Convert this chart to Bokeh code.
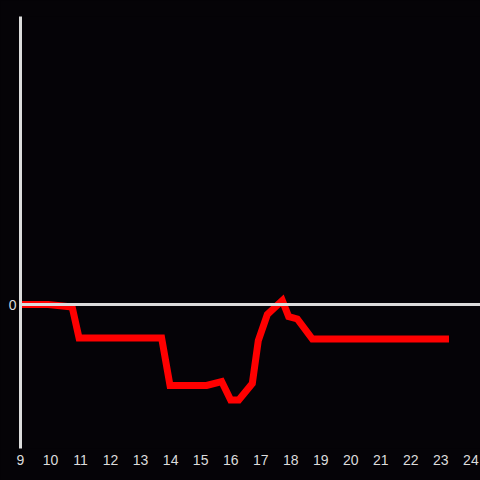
from bokeh.plotting import figure
from bokeh.models import Range1d, FixedTicker, Span
from bokeh.embed import file_html
from bokeh.resources import INLINE

# data
hours = [9.0, 9.92, 10.72, 10.95, 13.7, 13.98, 15.2, 15.7, 16.0, 16.27,
         16.72, 16.92, 17.22, 17.72, 17.93, 18.22, 18.72, 23.27]
values = [0, 0, -2.5, -33.5, -33.5, -81, -81, -77, -95.5, -95.5,
          -79, -36, -10, 4, -12, -14.5, -34.5, -34.5]
x_ticks = list(range(9, 25))
y_ticks = [0]

BG = "#050307"
FG = "#dcdcdc"

p = figure(width=480, height=480, output_backend="svg",
           toolbar_location=None,
           x_range=Range1d(9, 24.32), y_range=Range1d(-144, 288),
           background_fill_color=BG, border_fill_color=BG,
           min_border_left=20, min_border_right=0, min_border_top=16,
           min_border_bottom=32)
p.outline_line_color = None
p.xgrid.visible = False
p.ygrid.visible = False

p.add_layout(Span(location=0, dimension="width", line_color=FG, line_width=3))
p.line(hours, values, line_color="#ff0000", line_width=7, line_join="miter")

xa = p.xaxis[0]
xa.ticker = FixedTicker(ticks=x_ticks)
xa.axis_line_color = None
xa.major_tick_line_color = None
xa.minor_tick_line_color = None
xa.major_tick_out = 0
xa.major_label_standoff = 6
xa.major_label_text_color = FG
xa.major_label_text_font = "Liberation Sans"
xa.major_label_text_font_size = "14px"

ya = p.yaxis[0]
ya.ticker = FixedTicker(ticks=y_ticks)
ya.axis_line_color = FG
ya.axis_line_width = 3
ya.major_tick_line_color = None
ya.minor_tick_line_color = None
ya.major_tick_out = 0
ya.major_label_standoff = 4
ya.major_label_text_color = FG
ya.major_label_text_font = "Liberation Sans"
ya.major_label_text_font_size = "14px"

html = file_html(p, INLINE)
html = html.replace("</head>", "<style>html,body{background:#050307;}</style></head>", 1)
open("out.html", "w").write(html)
